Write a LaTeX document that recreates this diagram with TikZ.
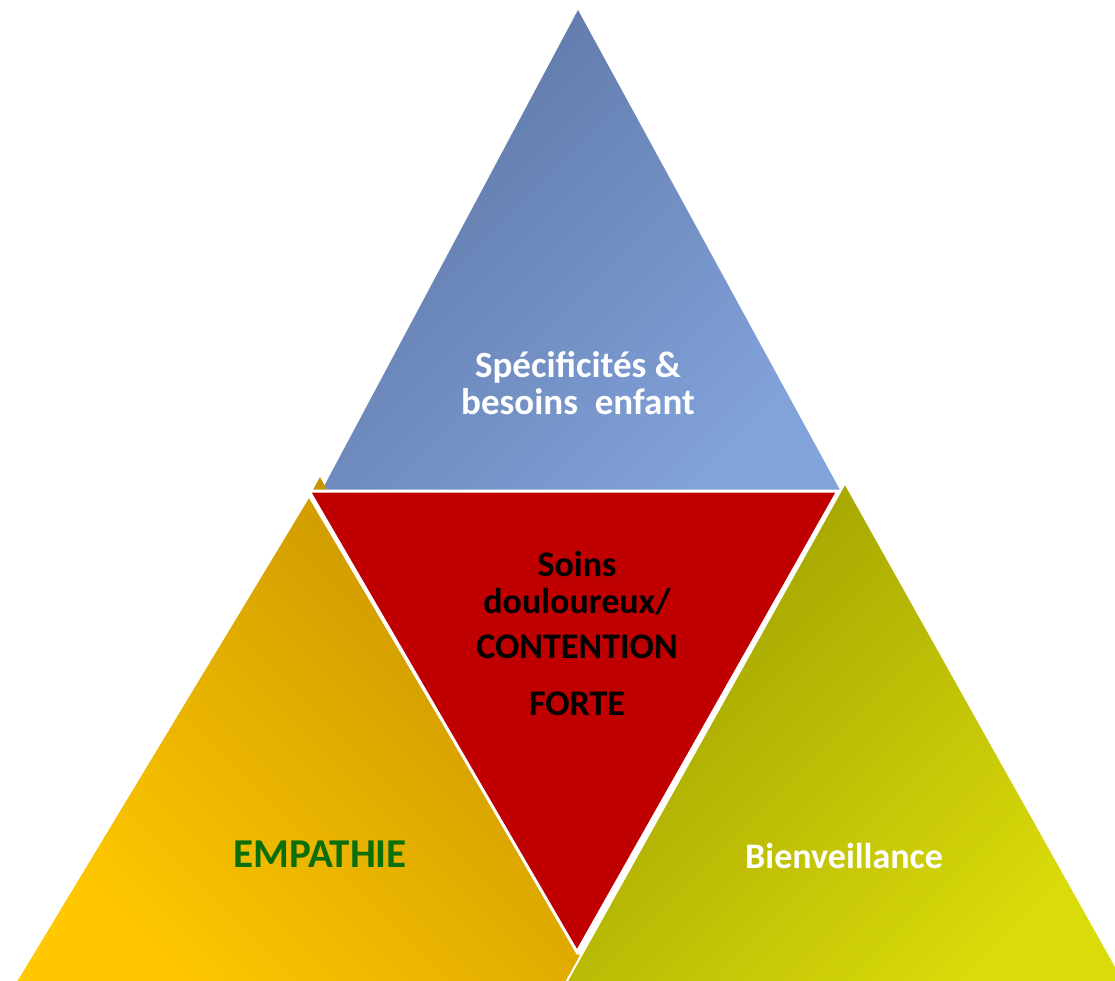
\documentclass[tikz,border=0pt]{standalone}
\usepackage{fontspec}
\setmainfont{Carlito}
\definecolor{blueA}{RGB}{94,118,165}
\definecolor{blueB}{RGB}{130,162,218}
\definecolor{goldA}{RGB}{200,148,0}
\definecolor{goldB}{RGB}{255,200,0}
\definecolor{greenA}{RGB}{158,158,0}
\definecolor{greenB}{RGB}{218,220,10}
\definecolor{redF}{RGB}{192,0,0}
\definecolor{empGreen}{RGB}{10,110,10}
\tikzset{
  lbl/.style={font=\bfseries\fontsize{37}{40}\selectfont, anchor=base, inner sep=0pt},
  redlbl/.style={lbl, black, font=\bfseries\fontsize{36}{40}\selectfont},
  tri/.style={draw=white, line width=2pt, line join=miter}
}
\begin{document}
\begin{tikzpicture}[x=1pt,y=-1pt]
\useasboundingbox (0,0) rectangle (1115,980);
\clip (0,0) rectangle (1115,980);
% top blue triangle
\shade[top color=blueA, bottom color=blueB, shading angle=45]
  (578,10) -- (322,490) -- (840,490) -- cycle;
% small gold piece
\fill[goldA] (320,477) -- (313,490) -- (327,490) -- cycle;
% left gold triangle
\shade[tri, top color=goldA, bottom color=goldB, shading angle=-45]
  (309,496) -- (12,988) -- (600,988) -- cycle;
% right green triangle
\shade[tri, top color=greenA, bottom color=greenB, shading angle=45]
  (845,483) -- (563,988) -- (1128,988) -- cycle;
% red inverted triangle
\filldraw[fill=redF, draw=white, line width=3pt, line join=miter]
  (309,491) -- (838,491) -- (577,952) -- cycle;
\draw[white, line width=1.2pt] (597,922) -- (579,955);
% texts
\node[lbl, white] (t1) at (578,377) {Spécificités \&};
\node[lbl, white] (t2) at (578,414) {besoins\ \ enfant};
\node[redlbl] (r1) at (577,576) {Soins};
\node[redlbl] (r2) at (577,613) {douloureux/};
\node[redlbl] (r3) at (577,658) {CONTENTION};
\node[redlbl] (r4) at (577,715) {FORTE};
\node[lbl, empGreen, font=\bfseries\fontsize{41}{44}\selectfont] (emp) at (320,867) {EMPATHIE};
\node[lbl, white, font=\bfseries\fontsize{36}{40}\selectfont] (bien) at (844,868) {Bienveillance};
\end{tikzpicture}
\end{document}
